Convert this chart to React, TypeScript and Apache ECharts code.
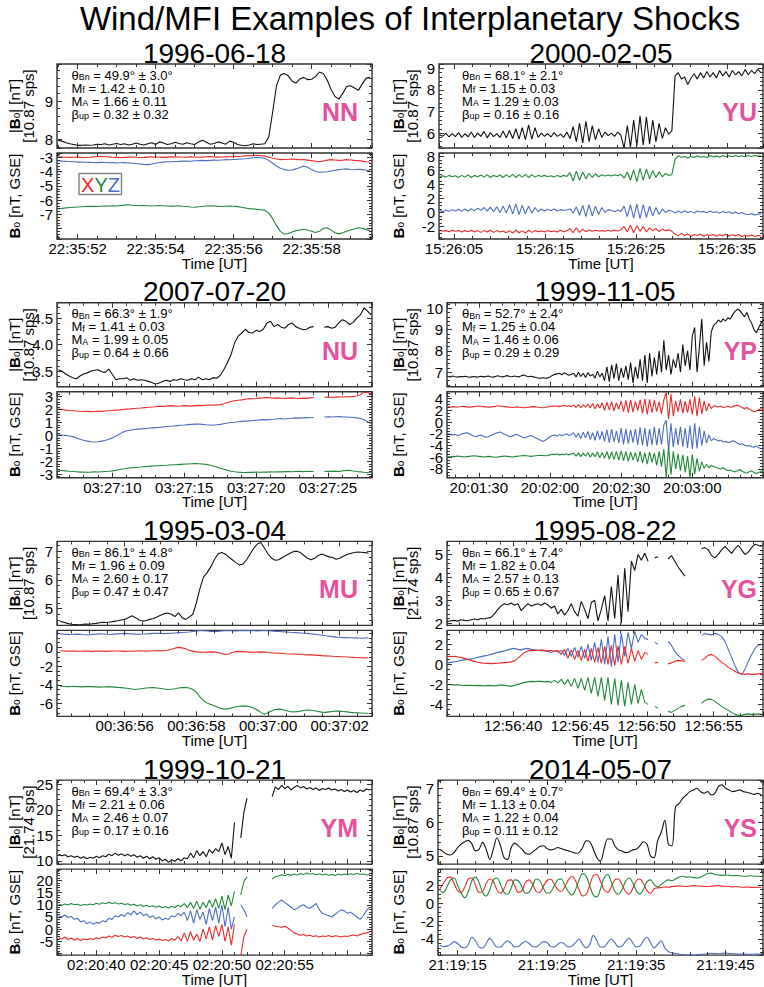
import React, { useEffect, useRef } from "react";
import * as echarts from "echarts";

/* ================= DATA ================= */
const mainTitle = "Wind/MFI Examples of Interplanetary Shocks";
const eventDates = ["1996-06-18", "2000-02-05", "2007-07-20", "1999-11-05", "1995-03-04", "1995-08-22", "1999-10-21", "2014-05-07"];
const shockCodes = ["NN", "YU", "NU", "YP", "MU", "YG", "YM", "YS"];
const sampleRates = ["10.87", "10.87", "10.87", "10.87", "10.87", "21.74", "21.74", "10.87"];
const thetaBn = [[49.9, 3.0], [68.1, 2.1], [66.3, 1.9], [52.7, 2.4], [86.1, 4.8], [66.1, 7.4], [69.4, 3.3], [69.4, 0.7]];
const machFast = [[1.42, 0.10], [1.15, 0.03], [1.41, 0.03], [1.25, 0.04], [1.96, 0.09], [1.82, 0.04], [2.21, 0.06], [1.13, 0.04]];
const machAlfven = [[1.66, 0.11], [1.29, 0.03], [1.99, 0.05], [1.46, 0.06], [2.60, 0.17], [2.57, 0.13], [2.46, 0.07], [1.22, 0.04]];
const betaUp = [[0.32, 0.32], [0.16, 0.16], [0.64, 0.66], [0.29, 0.29], [0.47, 0.47], [0.65, 0.67], [0.17, 0.16], [0.11, 0.12]];

// time axis: t = 0 is this UT time; values in seconds relative to it
const zeroTimes = ["22:35:52", "15:26:05", "03:27:10", "20:01:30", "00:36:56", "12:56:40", "02:20:40", "21:19:15"];
const sampleStart = [-0.5, -1.6, -3.75, -13, -1.8, -4.9, -3.0, -2.0];
const sampleStep = [0.1, 0.35, 0.25, 1.0, 0.1, 0.25, 0.25, 0.4];
const timeRanges = [[-0.53, 7.55], [-1.65, 33.97], [-3.85, 18.06], [-13.4, 119.8], [-1.89, 6.9], [-4.95, 18.7], [-3.13, 21.95], [-2.2, 34.2]];
const timeSteps = [2, 10, 5, 30, 2, 5, 5, 10];
const timeMinorSteps = [0.5, 2, 1, 5, 0.5, 1, 1, 2];
const hiddenTimeTicks = [[], [], [], [], [], [], [20], []];
const bRanges = [[7.77, 9.97], [5.31, 9.2], [3.21, 4.79], [6.32, 10.26], [4.41, 7.34], [1.9, 5.57], [9.35, 25.84], [4.76, 7.24]];
const bSteps = [1, 1, 0.5, 1, 1, 1, 5, 1];
const bMinorSteps = [0.2, 0.2, 0.1, 0.2, 0.2, 0.2, 1, 0.2];
const bDecimals = [0, 0, 1, 0, 0, 0, 0, 0];
const compRanges = [[-8.74, -2.68], [-3.8, 8.5], [-3.28, 3.38], [-9.5, 5.2], [-7.38, 1.82], [-5.2, 3.4], [-10.6, 24.6], [-5.8, 3.8]];
const compSteps = [1, 2, 1, 2, 2, 2, 5, 2];
const compMinorSteps = [0.2, 0.5, 0.2, 0.5, 0.5, 0.5, 1, 0.5];
const hiddenCompTicks = [[-8], [], [], [], [], [], [-10], []];

/* ---- 1996-06-18 (NN) ---- */
const nnB = [7.97,7.95,7.91,7.88,7.86,7.84,7.84,7.85,7.84,7.85,
 7.87,7.86,7.88,7.85,7.87,7.89,7.86,7.88,7.85,7.87,
 7.90,7.87,7.85,7.88,7.91,7.86,7.93,7.90,7.86,7.88,
 7.92,7.89,7.87,7.91,7.88,7.86,7.93,7.97,7.92,7.87,
 7.89,7.93,7.90,7.87,7.95,7.92,7.86,7.84,7.83,7.85,
 7.88,7.86,7.87,7.88,8.05,8.70,9.40,9.68,9.72,9.66,
 9.52,9.47,9.58,9.62,9.56,9.57,9.64,9.76,9.72,9.55,
 9.30,9.12,9.05,9.20,9.38,9.40,9.34,9.28,9.45,9.60,
 9.62];
const nnX = [-2.97,-2.96,-2.98,-2.99,-2.98,-2.97,-2.99,-3.00,-2.98,-2.95,
 -2.93,-2.92,-2.94,-2.96,-2.98,-2.99,-3.00,-2.99,-2.97,-2.96,
 -2.98,-3.00,-2.99,-2.97,-2.95,-2.96,-2.98,-2.99,-2.97,-2.95,
 -2.94,-2.96,-2.98,-2.97,-2.95,-2.96,-2.98,-2.97,-2.94,-2.93,
 -2.95,-2.97,-2.96,-2.95,-2.94,-2.92,-2.93,-2.91,-2.88,-2.86,
 -2.87,-2.84,-2.86,-2.90,-2.98,-3.05,-3.10,-3.15,-3.14,-3.12,
 -3.10,-3.13,-3.16,-3.14,-3.18,-3.22,-3.26,-3.30,-3.24,-3.18,
 -3.15,-3.17,-3.20,-3.18,-3.15,-3.17,-3.20,-3.22,-3.25,-3.30,
 -3.33];
const nnY = [-6.60,-6.58,-6.55,-6.52,-6.50,-6.48,-6.47,-6.45,-6.44,-6.43,
 -6.45,-6.43,-6.42,-6.41,-6.40,-6.42,-6.38,-6.35,-6.33,-6.36,
 -6.38,-6.40,-6.38,-6.40,-6.42,-6.40,-6.38,-6.40,-6.42,-6.44,
 -6.42,-6.40,-6.43,-6.45,-6.48,-6.50,-6.47,-6.45,-6.42,-6.40,
 -6.42,-6.44,-6.45,-6.43,-6.41,-6.43,-6.46,-6.50,-6.55,-6.60,
 -6.62,-6.65,-6.68,-6.72,-6.90,-7.30,-7.80,-8.20,-8.40,-8.35,
 -8.25,-8.15,-8.10,-8.05,-8.10,-8.20,-8.28,-8.20,-8.00,-7.95,
 -8.10,-8.30,-8.38,-8.30,-8.20,-8.10,-8.02,-7.95,-7.98,-8.08,
 -8.15];
const nnZ = [-3.22,-3.25,-3.27,-3.28,-3.30,-3.32,-3.31,-3.33,-3.34,-3.35,
 -3.36,-3.34,-3.35,-3.37,-3.36,-3.38,-3.37,-3.36,-3.38,-3.40,
 -3.42,-3.45,-3.48,-3.50,-3.46,-3.40,-3.35,-3.32,-3.30,-3.30,
 -3.28,-3.27,-3.25,-3.24,-3.26,-3.23,-3.22,-3.20,-3.22,-3.20,
 -3.18,-3.19,-3.17,-3.15,-3.16,-3.14,-3.12,-3.10,-3.08,-3.05,
 -3.02,-3.00,-3.02,-3.05,-3.20,-3.40,-3.60,-3.75,-3.85,-3.90,
 -3.88,-3.80,-3.70,-3.60,-3.68,-3.85,-3.98,-4.04,-4.02,-4.00,
 -3.95,-3.90,-3.85,-3.82,-3.80,-3.84,-3.86,-3.82,-3.85,-3.90,
 -3.95];

/* ---- 2000-02-05 (YU) ---- */
const yuB = [5.92,5.85,6.0,5.82,5.98,5.84,6.02,5.8,5.97,5.83,6.05,5.8,6.0,5.85,6.08,5.78,6.02,5.84,5.98,5.8,6.1,5.78,6.12,5.75,6.2,5.72,6.25,
 5.7,6.38,5.72,6.25,5.8,
 6.0,5.85,5.98,5.82,6.02,5.85,5.95,5.8,6.05,
 5.75,6.3,5.6,6.45,5.55,6.55,5.6,6.35,5.7,6.2,5.8,6.05,
 5.88,6.0,5.85,6.05,5.9,
 5.3,6.35,5.35,6.6,5.4,6.8,5.45,6.75,5.5,6.6,5.6,6.45,5.75,6.25,5.95,
 6.1,
 8.65,8.8,8.5,8.6,8.25,8.55,8.75,8.5,8.8,8.55,8.85,8.6,8.8,8.55,8.9,8.65,8.85,8.6,8.9,8.7,8.85,8.65,8.95,8.7,8.9,8.75,8.95,8.8];
const yuX = [-2.55,-2.7,-2.6,-2.75,-2.55,-2.7,-2.6,-2.8,-2.6,-2.75,-2.55,-2.8,-2.6,-2.85,-2.6,-2.8,-2.55,-2.85,-2.6,-2.8,-2.65,-2.9,-2.6,-2.95,-2.55,-2.9,-2.6,
 -2.95,-2.55,-2.85,-2.6,-2.75,
 -2.65,-2.8,-2.6,-2.75,-2.65,-2.8,-2.55,-2.75,-2.6,
 -2.3,-2.9,-2.2,-2.85,-2.4,-2.75,-2.5,-2.7,-2.55,-2.65,-2.6,-2.7,
 -2.55,-2.7,-2.5,-2.65,-2.5,
 -2.0,-2.8,-1.8,-2.9,-1.9,-2.7,-2.0,-2.8,-2.2,-2.6,-2.3,-2.75,-2.4,-2.6,-2.5,
 -2.7,
 -3.1,-3.35,-3.0,-3.3,-3.1,-3.4,-3.15,-3.3,-3.1,-3.45,-3.2,-3.3,-3.15,-3.4,-3.2,-3.35,-3.1,-3.4,-3.2,-3.35,-3.15,-3.45,-3.25,-3.4,-3.2,-3.45,-3.3,-3.35];
const yuY = [5.1,5.25,5.05,5.3,5.1,5.25,5.0,5.3,5.05,5.35,5.0,5.3,5.1,5.35,5.05,5.4,5.0,5.3,5.1,5.35,5.0,5.4,5.05,5.45,5.0,5.4,5.05,
 5.45,5.0,5.4,5.05,5.3,
 5.15,5.3,5.1,5.25,5.05,5.3,5.1,5.3,5.15,
 5.7,4.5,5.9,4.6,5.8,4.8,5.6,5.0,5.5,5.1,5.4,5.2,
 5.35,5.2,5.4,5.25,5.45,
 4.9,5.8,4.6,6.1,4.4,6.3,4.6,6.2,4.8,6.0,5.0,5.8,5.1,5.6,5.3,
 5.4,
 7.6,8.1,7.9,8.0,7.8,8.05,7.85,8.1,7.9,8.0,7.85,8.1,7.95,8.05,7.9,8.15,7.95,8.1,7.95,8.15,8.0,8.1,7.95,8.15,8.0,8.15,8.05,8.1];
const yuZ = [0.3,0.1,0.35,0.15,0.4,0.2,0.45,0.15,0.5,0.2,0.55,0.25,0.6,0.3,0.7,0.2,0.75,0.1,0.8,0.0,0.9,-0.1,
 1.1,-0.2,1.2,-0.3,1.0,-0.2,0.9,-0.1,0.7,0.1,
 0.5,0.2,0.45,0.25,0.5,0.2,0.4,0.3,0.35,0.5,-0.1,0.8,-0.4,
 1.0,-0.6,1.1,-0.5,0.9,-0.3,0.7,0.0,0.4,
 0.3,0.1,0.35,0.15,
 0.9,-0.6,1.1,-0.8,1.2,-0.9,1.1,-0.7,0.9,-0.5,0.7,-0.3,0.5,0.0,0.3,
 0.2,
 -0.1,0.2,-0.05,0.25,0.0,0.15,-0.1,0.2,0.05,0.15,-0.05,0.2,0.0,0.1,-0.1,0.15,-0.05,0.1,-0.15,0.05,-0.2,0.0,-0.25,-0.3,-0.2,-0.35,-0.25,-0.2];

/* ---- 2007-07-20 (NU) ---- */
const nuB = [3.53,3.50,3.45,3.41,3.38,3.36,3.41,3.45,3.47,3.50,
 3.52,3.53,3.49,3.48,3.54,3.44,3.34,3.36,3.36,3.38,
 3.33,3.36,3.33,3.34,3.33,3.31,3.29,3.26,3.28,3.31,
 3.33,3.31,3.34,3.33,3.36,3.34,3.33,3.36,3.34,3.39,
 3.34,3.36,3.34,3.38,3.37,3.42,3.53,3.66,3.81,4.03,
 4.16,4.22,4.29,4.23,4.22,4.27,4.25,4.29,4.41,4.44,
 4.34,4.38,4.33,4.31,4.38,4.41,4.34,4.31,4.28,4.29,
 4.33,4.34,null,null,4.33,4.34,4.31,4.33,4.41,4.47,
 4.44,4.38,4.42,4.50,4.56,4.69,4.63,4.56];
const nuX = [2.05,2.0,1.95,1.92,1.9,1.88,1.87,1.85,1.86,1.84,
 1.85,1.87,1.86,1.88,1.9,1.92,1.95,1.97,2.0,2.03,
 2.05,2.08,2.1,2.12,2.15,2.17,2.2,2.22,2.25,2.23,
 2.26,2.3,2.28,2.25,2.27,2.3,2.28,2.26,2.3,2.32,
 2.3,2.33,2.35,2.33,2.36,2.38,2.45,2.55,2.62,2.68,
 2.72,2.75,2.8,2.85,2.83,2.85,2.88,2.9,2.93,2.9,
 2.88,2.9,2.87,2.85,2.88,2.9,2.87,2.85,2.88,2.86,
 2.9,2.93,null,null,2.95,2.97,2.95,2.96,2.98,2.97,
 2.99,3.0,3.02,3.05,3.15,3.35,3.3,3.2];
const nuY = [-2.7,-2.72,-2.75,-2.78,-2.8,-2.82,-2.85,-2.84,-2.86,-2.85,
 -2.83,-2.84,-2.82,-2.8,-2.78,-2.75,-2.7,-2.65,-2.6,-2.55,
 -2.52,-2.5,-2.47,-2.45,-2.42,-2.4,-2.38,-2.36,-2.35,-2.33,
 -2.32,-2.3,-2.28,-2.27,-2.25,-2.23,-2.22,-2.2,-2.18,-2.2,
 -2.22,-2.25,-2.3,-2.38,-2.45,-2.55,-2.62,-2.7,-2.78,-2.82,
 -2.85,-2.87,-2.88,-2.86,-2.87,-2.85,-2.86,-2.84,-2.85,-2.83,
 -2.84,-2.82,-2.83,-2.81,-2.8,-2.82,-2.8,-2.79,-2.81,-2.8,
 -2.78,-2.8,null,null,-2.8,-2.78,-2.79,-2.77,-2.8,-2.75,
 -2.72,-2.7,-2.76,-2.8,-2.83,-2.86,-2.88,-2.85];
const nuZ = [0.05,0.03,0.0,-0.05,-0.1,-0.2,-0.3,-0.38,-0.45,-0.5,
 -0.52,-0.5,-0.45,-0.4,-0.3,-0.2,-0.05,0.1,0.25,0.35,
 0.4,0.45,0.48,0.5,0.52,0.55,0.58,0.6,0.62,0.65,
 0.68,0.7,0.72,0.75,0.78,0.8,0.83,0.85,0.87,0.88,
 0.85,0.82,0.8,0.78,0.82,0.85,0.9,0.95,1.0,1.02,
 1.05,1.08,1.1,1.12,1.15,1.17,1.2,1.22,1.2,1.23,
 1.25,1.28,1.3,1.27,1.3,1.32,1.35,1.33,1.35,1.37,
 1.36,1.38,null,null,1.42,1.43,1.42,1.44,1.45,1.43,
 1.42,1.4,1.38,1.35,1.3,1.2,1.05,0.92];

/* ---- 1999-11-05 (YP) ---- */
const ypB = [6.80,6.78,6.82,6.79,6.77,6.80,6.78,6.81,6.79,6.76,6.78,6.80,6.77,6.79,6.81,6.78,6.80,6.82,6.79,6.77,6.80,6.83,6.80,6.78,6.81,6.84,6.80,6.79,6.82,6.80,6.78,6.84,6.87,6.82,6.79,6.81,6.78,6.75,6.73,6.72,6.74,6.72,6.73,6.78,
 6.85,6.9,6.92,6.95,6.88,6.97,6.92,6.86,6.9,
 6.95,6.78,7.0,6.8,6.95,6.75,6.98,6.82,6.9,6.72,7.05,6.78,6.95,
 6.6,7.25,6.55,7.35,6.7,7.4,6.6,7.2,6.75,7.3,6.65,7.45,6.5,7.25,6.7,
 7.6,6.6,7.8,6.5,7.9,6.8,7.7,6.9,8.0,7.0,8.5,7.1,7.8,6.9,7.6,7.2,7.9,7.0,8.3,7.3,
 8.0,7.1,8.7,9.1,7.0,8.2,9.5,7.3,8.4,7.5,8.9,9.2,
 9.3,9.45,9.35,9.5,9.4,9.55,9.5,9.7,9.85,9.95,9.9,9.75,9.6,9.8,9.5,9.3,9.0,8.85,9.1,9.3,9.45,9.6];
const ypX = [2.6,2.55,2.65,2.6,2.58,2.62,2.7,2.65,2.6,2.55,2.6,2.65,2.7,2.75,2.7,2.65,2.6,2.55,2.6,2.65,2.7,2.8,2.75,2.7,2.65,2.6,2.55,2.5,2.55,2.6,2.55,2.5,2.45,2.5,2.55,2.6,2.65,2.6,2.55,2.5,2.45,2.5,2.6,2.7,
 2.75,2.7,2.8,2.65,2.75,2.85,2.7,2.8,2.65,
 2.9,2.5,3.0,2.45,2.95,2.55,3.1,2.4,3.2,2.3,3.1,2.4,3.3,
 2.0,3.4,2.1,3.5,1.9,3.3,2.2,3.6,1.8,3.7,1.6,3.8,1.7,3.5,2.0,
 3.8,1.5,4.0,1.3,3.9,1.6,3.7,1.8,3.5,1.4,3.8,5.1,0.5,4.8,1.0,3.6,1.8,3.9,1.5,3.6,
 1.6,3.9,1.3,4.4,1.0,4.2,1.4,3.6,1.9,3.2,2.3,2.8,
 2.7,2.6,2.75,2.5,2.6,2.7,2.55,2.65,2.8,2.9,2.7,2.5,2.3,2.5,2.2,2.0,1.8,1.9,2.1,2.3,2.0,1.7];
const ypY = [-5.9,-5.95,-5.85,-5.9,-5.8,-5.85,-5.9,-5.95,-5.9,-5.85,-5.8,-5.75,-5.8,-5.85,-5.9,-5.95,-5.9,-5.85,-5.9,-5.95,-6.0,-5.95,-5.9,-5.85,-5.8,-5.85,-5.9,-5.95,-5.9,-5.85,-5.8,-5.75,-5.7,-5.75,-5.8,-5.85,-5.8,-5.75,-5.7,-5.65,-5.7,-5.75,-5.7,-5.6,
 -5.5,-5.55,-5.45,-5.6,-5.5,-5.55,-5.4,-5.6,-5.45,
 -5.3,-5.8,-5.25,-5.9,-5.3,-5.8,-5.2,-6.0,-5.3,-5.9,-5.1,-6.1,-5.2,
 -6.2,-5.0,-6.3,-5.1,-6.4,-5.0,-6.5,-4.9,-6.6,-5.0,-6.7,-5.1,-6.5,-5.2,-6.8,
 -5.0,-7.0,-5.2,-7.2,-5.1,-6.9,-5.3,-7.4,-5.0,-7.6,-4.6,-9.4,-4.2,-9.0,-5.0,-8.0,-5.4,-8.3,-5.6,-8.6,
 -5.8,-9.4,-5.5,-8.9,-6.2,-8.4,-6.8,-7.9,-7.2,-7.8,-7.4,-7.6,
 -7.7,-7.9,-8.0,-7.8,-8.1,-8.3,-8.2,-8.4,-8.5,-8.3,-8.1,-8.4,-8.6,-8.7,-8.5,-8.3,-8.6,-8.8,-8.6,-8.4,-8.2,-8.1];
const ypZ = [-2.0,-2.1,-2.2,-2.1,-2.3,-2.2,-2.0,-1.9,-1.8,-2.0,-2.2,-2.4,-2.5,-2.3,-2.2,-2.4,-2.6,-2.5,-2.3,-2.1,-1.9,-1.8,-1.7,-1.9,-2.1,-2.3,-2.5,-2.4,-2.2,-2.1,-2.3,-2.5,-2.7,-2.6,-2.4,-2.3,-2.5,-2.7,-2.9,-3.1,-3.3,-3.1,-2.8,-2.5,
 -2.3,-2.2,-2.4,-2.1,-2.3,-2.2,-2.0,-2.3,-2.1,
 -1.8,-2.6,-1.9,-2.8,-1.7,-2.7,-1.6,-3.0,-1.8,-3.1,-1.5,-3.0,-1.6,
 -3.3,-1.3,-3.5,-1.2,-3.4,-1.5,-3.6,-1.0,-3.8,-1.1,-3.7,-1.3,-3.5,-1.2,-3.9,
 -0.9,-4.0,-1.0,-4.2,-1.2,-3.9,-0.8,-4.0,-1.0,-3.8,-0.5,0.3,-4.8,-0.2,-4.3,-1.0,-3.9,-0.8,-4.2,-1.0,
 -4.4,-0.6,-4.6,-0.2,-4.5,-0.8,-4.0,-1.5,-3.6,-2.2,-3.2,-2.8,
 -3.0,-3.2,-3.1,-3.4,-3.3,-3.5,-3.4,-3.2,-3.3,-3.6,-3.8,-3.7,-3.9,-4.1,-4.0,-4.2,-4.3,-4.1,-4.4,-4.5,-4.6,-4.4];

/* ---- 1995-03-04 (MU) ---- */
const muB = [4.55,4.52,4.48,4.45,4.44,4.43,4.44,4.46,4.45,4.47,
 4.48,4.50,4.52,4.51,4.53,4.55,4.57,4.60,4.62,4.68,
 4.75,4.68,4.60,4.56,4.58,4.62,4.65,4.70,4.76,4.82,
 4.84,4.80,4.72,4.85,4.68,4.62,4.70,4.80,5.20,5.70,
 6.10,6.25,6.45,6.70,6.90,6.95,6.90,6.80,6.70,6.60,
 6.52,6.55,6.70,6.90,7.10,7.25,7.30,7.10,6.90,6.75,
 6.68,6.70,6.78,6.85,6.92,6.98,7.00,6.95,6.85,6.75,
 6.70,6.75,6.85,6.90,6.85,6.80,6.78,6.72,6.75,6.82,
 6.88,6.92,6.95,6.97,6.96,6.95,6.93];
const muX = [-0.36,-0.38,-0.4,-0.4,-0.39,-0.41,-0.4,-0.38,-0.4,-0.42,
 -0.4,-0.38,-0.4,-0.42,-0.4,-0.39,-0.38,-0.4,-0.42,-0.41,
 -0.4,-0.38,-0.37,-0.39,-0.4,-0.38,-0.36,-0.35,-0.34,-0.36,
 -0.3,-0.2,-0.08,0.0,-0.05,-0.15,-0.3,-0.4,-0.48,-0.5,
 -0.52,-0.5,-0.48,-0.5,-0.55,-0.65,-0.75,-0.7,-0.55,-0.45,
 -0.42,-0.45,-0.48,-0.5,-0.52,-0.5,-0.48,-0.5,-0.55,-0.58,
 -0.6,-0.62,-0.65,-0.68,-0.7,-0.7,-0.72,-0.75,-0.78,-0.8,
 -0.8,-0.82,-0.85,-0.88,-0.9,-0.92,-0.95,-0.97,-1.0,-1.0,
 -1.02,-1.05,-1.07,-1.08,-1.1,-1.12,-1.1];
const muY = [-4.15,-4.18,-4.2,-4.18,-4.17,-4.2,-4.22,-4.2,-4.18,-4.2,
 -4.22,-4.25,-4.23,-4.2,-4.22,-4.25,-4.28,-4.3,-4.35,-4.4,
 -4.45,-4.5,-4.45,-4.4,-4.35,-4.32,-4.3,-4.35,-4.4,-4.45,
 -4.5,-4.48,-4.42,-4.35,-4.3,-4.28,-4.35,-4.5,-4.8,-5.3,
 -5.7,-5.95,-6.1,-6.25,-6.4,-6.55,-6.6,-6.55,-6.45,-6.35,
 -6.3,-6.25,-6.28,-6.35,-6.5,-6.7,-6.95,-7.15,-7.0,-6.8,
 -6.65,-6.6,-6.65,-6.75,-6.85,-6.9,-6.88,-6.82,-6.75,-6.7,
 -6.72,-6.78,-6.85,-6.92,-6.95,-6.9,-6.85,-6.8,-6.82,-6.85,
 -6.9,-6.95,-6.98,-7.0,-7.02,-7.05,-7.05];
const muZ = [1.45,1.42,1.4,1.38,1.4,1.42,1.38,1.35,1.37,1.4,
 1.42,1.45,1.43,1.4,1.38,1.42,1.45,1.48,1.5,1.47,
 1.45,1.42,1.4,1.43,1.45,1.48,1.5,1.52,1.5,1.48,
 1.5,1.52,1.55,1.58,1.6,1.62,1.65,1.7,1.75,1.8,
 1.78,1.75,1.72,1.7,1.72,1.75,1.78,1.8,1.78,1.75,
 1.78,1.8,1.82,1.8,1.78,1.75,1.78,1.8,1.78,1.75,
 1.72,1.7,1.68,1.65,1.62,1.6,1.58,1.55,1.52,1.5,
 1.45,1.4,1.35,1.3,1.25,1.2,1.15,1.1,1.08,1.05,
 1.05,1.03,1.02,1.0,0.98,1.0,1.02];

/* ---- 1995-08-22 (YG) ---- */
const ygB = [2.07,2.1,2.12,2.08,2.15,2.12,2.1,2.15,2.18,2.15,
 2.2,2.18,2.22,2.25,2.4,2.6,2.75,2.85,2.8,2.88,
 2.78,2.85,2.55,2.7,2.85,2.75,2.8,2.85,2.78,2.88,
 2.8,2.65,2.75,2.4,2.6,2.35,2.55,2.85,2.5,2.3,
 2.95,2.6,2.2,2.9,3.0,2.1,2.6,3.2,2.1,3.6,
 2.2,4.1,2.0,4.4,2.5,4.7,4.3,5.0,4.75,5.05,
 4.7,null,4.85,4.9,null,null,4.8,4.95,4.7,4.45,
 4.25,4.05,null,null,null,null,5.25,5.3,5.2,4.95,
 4.85,5.0,5.2,5.35,5.2,5.05,5.25,5.4,5.2,5.0,
 5.1,5.3,5.45,5.4,5.35];
const ygX = [0.8,0.78,0.82,0.75,0.7,0.6,0.5,0.4,0.3,0.22,
 0.15,0.12,0.1,0.08,0.1,0.12,0.15,0.18,0.2,0.25,
 0.35,0.6,0.9,1.2,1.35,1.4,1.38,1.42,1.45,1.4,
 1.35,1.42,1.3,1.38,1.0,1.5,0.6,1.45,0.5,1.4,
 0.4,1.5,0.3,1.6,0.2,1.7,0.1,1.8,0.0,1.9,
 -0.1,1.85,0.0,1.8,0.1,1.6,0.3,1.4,0.5,1.2,
 1.0,null,0.15,0.2,null,null,0.05,0.15,0.3,0.4,
 0.35,0.3,null,null,null,null,0.4,0.6,0.9,1.0,
 0.8,0.5,0.2,0.0,-0.3,-0.5,-0.7,-0.85,-0.95,-1.0,
 -0.95,-1.0,-1.0,-0.95,-0.9];
const ygY = [-2.0,-2.02,-2.05,-2.05,-2.08,-2.1,-2.08,-2.1,-2.12,-2.1,
 -2.12,-2.15,-2.1,-2.12,-2.15,-2.1,-2.05,-2.1,-2.15,-2.2,
 -2.1,-2.0,-1.9,-1.8,-1.75,-1.7,-1.72,-1.68,-1.7,-1.75,
 -1.7,-1.8,-1.6,-1.85,-1.5,-2.0,-1.5,-2.2,-1.4,-2.4,
 -1.4,-2.6,-1.3,-2.9,-1.3,-3.2,-1.3,-3.6,-1.3,-4.0,
 -1.4,-4.1,-1.6,-4.2,-1.8,-4.0,-2.0,-3.9,-2.5,-3.8,
 -4.0,null,-4.2,-4.4,null,null,-4.7,-4.8,-4.6,-4.4,
 -4.2,-4.1,null,null,null,null,-3.9,-3.6,-3.45,-3.5,
 -3.7,-3.95,-4.2,-4.4,-4.6,-4.8,-5.0,-5.1,-5.1,-5.0,
 -4.95,-5.0,-5.0,-4.95,-4.98];
const ygZ = [0.15,0.2,0.25,0.32,0.4,0.45,0.5,0.55,0.62,0.7,
 0.78,0.85,0.92,1.0,1.1,1.2,1.28,1.35,1.45,1.55,
 1.6,1.5,1.45,1.55,1.6,1.5,1.45,1.4,1.38,1.35,
 1.3,1.2,1.35,1.25,1.4,0.9,1.6,0.8,1.7,0.7,
 1.8,0.6,2.0,0.4,2.2,0.2,2.5,0.0,2.8,-0.2,
 3.0,0.2,3.1,0.8,3.2,1.6,3.3,2.2,3.0,2.6,
 2.5,null,2.2,2.0,null,null,2.3,1.9,1.3,0.9,
 0.6,0.4,null,null,null,null,2.9,3.1,3.0,2.95,
 3.1,3.0,2.8,2.3,1.5,0.7,-0.1,-0.8,-1.0,-0.5,
 0.3,1.0,1.6,1.95,2.0];

/* ---- 1999-10-21 (YM) ---- */
const ymB = [11.3,11.0,11.2,10.8,11.0,10.7,10.9,10.5,10.8,10.4,
 10.7,10.5,10.9,10.6,11.0,10.8,11.3,11.0,11.5,11.1,
 11.4,11.0,11.3,10.9,11.2,10.7,11.0,10.5,10.9,10.4,
 10.8,10.3,10.6,10.0,10.3,9.7,10.2,9.9,10.4,10.0,
 10.6,10.4,11.5,10.6,12.0,11.0,11.8,10.8,12.2,11.5,
 12.4,11.8,13.5,11.2,12.8,10.5,17.5,
 null,14.5,19.5,22.3,null,null,null,null,null,null,null,
 22.6,24.5,24.0,24.8,24.2,24.6,23.9,24.4,24.8,24.3,
 24.6,24.1,24.4,24.0,24.3,23.8,24.2,24.0,24.3,23.9,
 24.1,23.7,24.0,23.6,23.9,23.5,23.8,23.4,23.9,23.6,
 24.1,23.9];
const ymX = [-3.5,-4.0,-3.2,-4.2,-3.6,-4.5,-3.8,-4.6,-4.0,-4.4,
 -3.8,-4.2,-3.5,-3.9,-3.2,-3.6,-2.8,-3.3,-2.5,-3.0,
 -2.6,-3.2,-2.8,-3.5,-3.0,-3.8,-3.2,-4.0,-3.5,-4.2,
 -3.8,-4.5,-4.0,-4.6,-4.2,-4.8,-3.8,-4.5,-3.0,-4.8,
 -1.5,-5.0,-1.0,-4.5,-2.0,-5.0,0.0,-4.0,1.0,-4.5,
 1.5,-3.0,2.0,-5.0,1.0,-6.5,2.0,
 null,-11.0,-3.0,0.0,null,null,null,null,null,null,null,
 1.5,1.2,1.0,0.8,1.2,0.5,-0.5,-1.5,-2.0,-2.5,
 -2.2,-2.8,-2.5,-3.0,-2.7,-3.2,-2.8,-3.0,-2.6,-3.1,
 -2.7,-2.9,-3.2,-2.8,-3.0,-2.6,-2.4,-2.8,-2.2,-1.8,
 -1.5,-1.2];
const ymY = [10.2,9.8,10.3,9.9,10.5,10.0,10.2,9.7,10.1,9.9,
 10.3,10.0,10.6,10.2,10.8,10.4,11.0,10.5,10.8,10.3,
 10.6,10.1,10.4,9.8,10.2,9.5,10.0,9.3,9.8,9.2,
 9.6,9.0,9.5,8.8,9.3,8.7,9.4,8.9,9.8,9.2,
 10.5,8.8,11.0,8.5,11.5,8.2,11.0,8.8,12.0,9.0,
 12.5,8.5,13.5,8.0,14.0,9.5,15.5,
 null,14.0,19.5,21.5,null,null,null,null,null,null,null,
 20.5,21.5,21.8,22.3,21.9,22.5,22.0,22.6,22.2,22.8,
 22.4,23.0,22.5,22.8,22.3,22.7,22.2,22.6,22.1,22.4,
 22.0,22.5,22.2,22.6,22.3,22.7,22.4,22.8,22.5,22.6,
 22.2,22.4];
const ymZ = [5.5,5.0,5.8,4.8,5.2,4.0,4.5,3.0,3.5,2.2,
 3.0,2.0,2.8,2.5,3.5,3.0,4.5,4.0,5.5,5.0,
 6.0,5.2,6.8,5.8,7.5,6.0,7.0,5.5,6.2,4.8,
 5.5,4.2,5.0,3.8,4.5,4.0,5.5,5.0,6.5,5.5,
 7.0,3.5,7.5,2.5,8.0,4.0,7.0,2.0,8.5,3.5,
 9.0,2.5,10.0,1.0,9.0,0.0,5.0,
 null,10.0,8.0,5.0,null,null,null,null,null,null,null,
 8.5,10.0,11.0,12.0,11.0,10.0,9.0,8.0,8.5,9.5,
 10.0,9.0,8.5,9.5,10.5,8.0,6.5,6.0,5.5,5.0,
 6.0,7.0,8.0,7.5,6.5,7.0,6.0,5.0,4.0,5.5,
 7.5,9.0];

/* ---- 2014-05-07 (YS) ---- */
const ysB = [5.2,5.12,5.05,5.03,5.1,5.25,5.35,5.42,5.46,5.35,
 5.15,5.2,5.4,5.2,4.9,5.2,5.54,5.3,4.95,4.9,
 5.25,5.38,5.3,5.2,5.08,5.05,5.12,5.2,5.28,5.3,
 5.22,5.18,5.2,5.25,5.22,5.18,5.15,5.12,5.08,5.1,
 5.25,5.45,5.42,5.2,4.95,4.85,5.2,5.5,5.5,5.3,
 5.18,5.15,5.1,5.12,5.18,5.2,5.3,5.42,5.35,5.0,
 4.95,5.45,5.7,6.05,5.35,5.3,6.45,6.55,6.7,6.8,
 6.9,6.95,7.0,6.9,6.85,6.9,6.8,6.85,7.05,7.1,
 7.0,6.95,6.9,6.92,6.95,6.9,6.88,6.85,6.82,6.85,
 6.8];
const ysX = [1.6,2.2,2.8,2.9,2.2,1.4,1.2,1.8,2.7,2.8,
 2.0,1.2,1.3,2.2,2.7,2.4,1.5,1.1,1.6,2.5,
 2.6,1.9,1.2,1.4,2.3,2.6,2.1,1.3,1.2,1.9,
 2.5,2.7,2.2,1.5,1.3,1.8,2.6,3.0,2.5,1.5,
 0.8,1.0,2.0,3.1,3.2,2.4,1.5,1.2,1.8,2.6,
 2.7,2.1,1.3,1.0,1.6,2.5,2.7,2.2,1.4,1.1,
 1.6,1.7,1.75,1.8,1.78,1.85,1.9,1.92,1.88,1.85,
 1.9,1.95,1.92,1.9,1.88,1.85,1.9,1.93,1.95,1.9,
 1.88,1.85,1.82,1.85,1.8,1.78,1.8,1.77,1.75,1.78,
 1.75];
const ysY = [1.4,1.2,1.8,2.6,2.8,2.0,1.1,0.6,1.3,2.5,
 2.9,2.3,1.2,0.8,1.5,2.6,2.8,2.1,1.2,1.0,
 1.7,2.6,2.5,1.8,1.1,1.2,2.0,2.7,2.5,1.7,
 1.1,1.2,1.9,2.6,2.7,2.0,1.3,0.9,1.5,2.6,
 3.3,3.0,1.9,0.9,0.7,1.6,2.8,3.2,2.4,1.3,
 1.0,1.5,2.4,2.8,2.3,1.4,1.0,1.5,2.4,2.6,
 2.1,1.8,2.1,2.4,2.6,2.5,2.7,2.9,3.0,2.9,
 2.95,2.85,2.8,2.9,3.1,3.3,3.35,3.2,3.15,3.1,
 3.15,3.1,3.05,3.1,3.05,3.0,3.0,3.05,3.0,3.0,
 2.98];
const ysZ = [-4.7,-4.85,-4.8,-4.6,-4.3,-4.5,-4.9,-5.0,-4.6,-3.8,
 -4.2,-4.9,-5.0,-4.5,-3.9,-4.4,-4.9,-4.9,-4.5,-4.2,
 -4.5,-4.9,-4.85,-4.5,-4.25,-4.5,-4.85,-4.9,-4.6,-4.3,
 -4.4,-4.8,-4.9,-4.6,-4.4,-4.6,-4.9,-4.8,-4.4,-4.0,
 -4.6,-5.0,-4.6,-3.6,-4.2,-4.9,-4.9,-4.4,-4.0,-4.4,
 -4.9,-4.8,-4.3,-3.9,-4.4,-4.9,-4.8,-4.2,-3.8,-4.4,
 -5.0,-4.6,-4.2,-5.0,-5.4,-5.55,-5.6,-5.7,-5.75,-5.8,
 -5.78,-5.8,-5.75,-5.7,-5.72,-5.65,-5.6,-5.62,-5.65,-5.6,
 -5.58,-5.62,-5.65,-5.68,-5.7,-5.68,-5.7,-5.72,-5.7,-5.68,
 -5.7];

const bSeries = [nnB, yuB, nuB, ypB, muB, ygB, ymB, ysB];
const xSeries = [nnX, yuX, nuX, ypX, muX, ygX, ymX, ysX];
const ySeries = [nnY, yuY, nuY, ypY, muY, ygY, ymY, ysY];
const zSeries = [nnZ, yuZ, nuZ, ypZ, muZ, ygZ, ymZ, ysZ];

/* ================= LAYOUT & STYLE ================= */
const FONT = "'Liberation Sans', Arial, Helvetica, sans-serif";
const TICK_FONT = 15;
const PINK = "#E6519D";
const RED = "#EE2A2A";
const GREEN = "#23893A";
const BLUE = "#4C6DC2";
const BLACK = "#111111";
const FRAME = "#333333";
const ROW_TOP = [64, 302.7, 541.4, 780.1];
const TOP_H = 84;
const GAP = 5;
const BOT_H = 86;
const panelBoxes = [
  { col: 0, row: 0, left: 57, right: 372 },
  { col: 1, row: 0, left: 439, right: 763 },
  { col: 0, row: 1, left: 57, right: 372 },
  { col: 1, row: 1, left: 447, right: 763 },
  { col: 0, row: 2, left: 57, right: 372 },
  { col: 1, row: 2, left: 447, right: 763 },
  { col: 0, row: 3, left: 57, right: 372 },
  { col: 1, row: 3, left: 438, right: 763 },
];
const smoothing = [0, 0, 0, 0, 0, 0, 0, 0.35];

function pad2(n: number) { return (n < 10 ? "0" : "") + n; }
function toSec(hms: string) { const p = hms.split(":").map(Number); return p[0] * 3600 + p[1] * 60 + p[2]; }
function fmtHMS(total: number) {
  let s = Math.round(total);
  s = ((s % 86400) + 86400) % 86400;
  return pad2(Math.floor(s / 3600)) + ":" + pad2(Math.floor((s % 3600) / 60)) + ":" + pad2(s % 60);
}
function isMultiple(v: number, step: number) { const r = v / step; return Math.abs(r - Math.round(r)) < 1e-6; }
function isHidden(v: number, list: number[]) { return list.some((h) => Math.abs(h - v) < 1e-6); }

function axis(gridIndex: number, position: string, min: number, max: number, step: number, tickLen: number, label: any) {
  return {
    type: "value",
    gridIndex,
    position,
    min,
    max,
    minInterval: step,
    maxInterval: step,
    splitNumber: Math.max(1, Math.round((max - min) / step)),
    axisLine: { show: false, onZero: false },
    axisTick: { show: true, inside: true, length: tickLen, lineStyle: { color: FRAME, width: 1 } },
    minorTick: { show: false },
    splitLine: { show: false },
    minorSplitLine: { show: false },
    axisLabel: label || { show: false },
    axisPointer: { show: false },
    silent: true,
    z: 5,
  };
}

function text(x: number, y: number, str: string, size: number, opt: any = {}) {
  const align = opt.align || "center";
  return {
    type: "text",
    x,
    y,
    rotation: opt.rotation || 0,
    silent: true,
    z: 100,
    style: {
      text: str,
      fontSize: size,
      fontFamily: FONT,
      fontWeight: opt.weight || "normal",
      fill: opt.color || "#000",
      align,
      textAlign: align,
      verticalAlign: "middle",
      textVerticalAlign: "middle",
      rich: opt.rich,
    },
  };
}

function buildOption() {
  const grid: any[] = [];
  const xAxis: any[] = [];
  const yAxis: any[] = [];
  const series: any[] = [];
  const graphic: any[] = [];

  graphic.push(text(410, 18, mainTitle, 33));

  const subRich = {
    b: { fontWeight: "bold", fontSize: 15, fontFamily: FONT, fill: "#000" },
    s: { fontSize: 10, fontFamily: FONT, fill: "#000", verticalAlign: "bottom" },
  };
  const annRich = {
    s: { fontSize: 9, fontFamily: FONT, fill: "#000", verticalAlign: "bottom" },
  };

  panelBoxes.forEach((box, k) => {
    const top0 = ROW_TOP[box.row];
    const width = box.right - box.left;
    const lowTop = top0 + TOP_H + GAP;
    const gTop = grid.length;
    const gBot = gTop + 1;
    const gridStyle = { show: true, borderColor: FRAME, borderWidth: 1.4, backgroundColor: "transparent", containLabel: false, outerBoundsMode: "none" };
    grid.push({ ...gridStyle, left: box.left, top: top0, width, height: TOP_H });
    grid.push({ ...gridStyle, left: box.left, top: lowTop, width, height: BOT_H });

    const base = toSec(zeroTimes[k]);
    const [t0, t1] = timeRanges[k];
    const tStep = timeSteps[k];
    const tMinor = timeMinorSteps[k];
    const hideT = hiddenTimeTicks[k];

    const timeLabel = {
      show: true,
      fontSize: TICK_FONT,
      fontFamily: FONT,
      color: "#000",
      margin: 2,
      textStyle: { fontSize: TICK_FONT, fontFamily: FONT, color: "#000" },
      formatter: (v: number) => (isMultiple(v, tStep) && !isHidden(v, hideT) ? fmtHMS(base + v) : ""),
    };
    const numLabel = (step: number, dec: number, hidden: number[]) => ({
      show: true,
      fontSize: TICK_FONT,
      fontFamily: FONT,
      color: "#000",
      margin: 4,
      textStyle: { fontSize: TICK_FONT, fontFamily: FONT, color: "#000" },
      formatter: (v: number) => {
        if (!isMultiple(v, step) || isHidden(v, hidden)) return "";
        const r = Math.abs(v) < 1e-9 ? 0 : v;
        return r.toFixed(dec);
      },
    });

    [gTop, gBot].forEach((g) => {
      const isBot = g === gBot;
      // x axes: bottom major, bottom minor, top major, top minor
      xAxis.push(axis(g, "bottom", t0, t1, tStep, 5, isBot ? timeLabel : null));
      xAxis.push(axis(g, "bottom", t0, t1, tMinor, 3, null));
      xAxis.push(axis(g, "top", t0, t1, tStep, 5, null));
      xAxis.push(axis(g, "top", t0, t1, tMinor, 3, null));
      const yr = isBot ? compRanges[k] : bRanges[k];
      const ys = isBot ? compSteps[k] : bSteps[k];
      const ym = isBot ? compMinorSteps[k] : bMinorSteps[k];
      const lab = isBot ? numLabel(ys, 0, hiddenCompTicks[k]) : numLabel(ys, bDecimals[k], []);
      yAxis.push(axis(g, "left", yr[0], yr[1], ys, 5, lab));
      yAxis.push(axis(g, "left", yr[0], yr[1], ym, 3, null));
      yAxis.push(axis(g, "right", yr[0], yr[1], ys, 5, null));
      yAxis.push(axis(g, "right", yr[0], yr[1], ym, 3, null));
    });

    const toData = (vals: (number | null)[]) =>
      vals.map((v, i) => [Number((sampleStart[k] + i * sampleStep[k]).toFixed(4)), v]);
    const line = (g: number, vals: (number | null)[], color: string) => ({
      type: "line",
      xAxisIndex: g * 4,
      yAxisIndex: g * 4,
      data: toData(vals),
      showSymbol: false,
      symbol: "none",
      smooth: smoothing[k] || false,
      connectNulls: false,
      clip: true,
      silent: true,
      animation: false,
      lineStyle: { color, width: 1.1 },
      itemStyle: { color },
      z: 3,
    });
    series.push(line(gTop, bSeries[k], BLACK));
    series.push(line(gBot, zSeries[k], BLUE));
    series.push(line(gBot, xSeries[k], RED));
    series.push(line(gBot, ySeries[k], GREEN));

    // titles & labels
    const cx = (box.left + box.right) / 2;
    graphic.push(text(cx, top0 - 11, eventDates[k], 28));
    const ax = 71.5 + box.col * 390.5;
    const th = thetaBn[k], mf = machFast[k], ma = machAlfven[k], bu = betaUp[k];
    const lines = [
      `θ{s|Bn} = ${th[0].toFixed(1)}° ± ${th[1].toFixed(1)}°`,
      `M{s|f} = ${mf[0].toFixed(2)} ± ${mf[1].toFixed(2)}`,
      `M{s|A} = ${ma[0].toFixed(2)} ± ${ma[1].toFixed(2)}`,
      `β{s|up} = ${bu[0].toFixed(2)} ± ${bu[1].toFixed(2)}`,
    ];
    lines.forEach((ln, j) => {
      graphic.push(text(ax, top0 + 11 + 13 * j, ln, 13, { align: "left", rich: annRich }));
    });
    graphic.push(text(box.col ? 757 : 358, top0 + 48, shockCodes[k], 25, { align: "right", weight: "bold", color: PINK }));

    const lx = 14 + box.col * 384;
    graphic.push(text(lx, top0 + TOP_H / 2, "|{b|B}{s|o}| [nT]", 15, { rotation: Math.PI / 2, rich: subRich }));
    graphic.push(text(lx + 14, top0 + TOP_H / 2, `[${sampleRates[k]} sps]`, 15, { rotation: Math.PI / 2 }));
    graphic.push(text(lx, lowTop + BOT_H / 2, "{b|B}{s|o} [nT, GSE]", 15, { rotation: Math.PI / 2, rich: subRich }));
    graphic.push(text(cx, lowTop + BOT_H + 24, "Time [UT]", 15));

    if (k === 0) {
      graphic.push({
        type: "rect",
        silent: true,
        z: 99,
        shape: { x: 79, y: 173.5, width: 42.5, height: 21 },
        style: { fill: "#fff", stroke: "#888", lineWidth: 1.5 },
      });
      graphic.push(
        text(100.5, 184.5, "{x|X}{y|Y}{z|Z}", 20, {
          rich: {
            x: { fill: RED, fontSize: 20, fontFamily: FONT },
            y: { fill: GREEN, fontSize: 20, fontFamily: FONT },
            z: { fill: BLUE, fontSize: 20, fontFamily: FONT },
          },
        })
      );
    }
  });

  return {
    animation: false,
    backgroundColor: "#ffffff",
    textStyle: { fontFamily: FONT },
    grid,
    xAxis,
    yAxis,
    series,
    graphic: { elements: graphic },
  };
}

export default function App() {
  const ref = useRef<HTMLDivElement>(null);
  useEffect(() => {
    if (!ref.current) return;
    const chart = echarts.init(ref.current, null, { renderer: "svg", width: 764, height: 987 });
    chart.setOption(buildOption() as any);
    return () => chart.dispose();
  }, []);
  return (
    <div
      ref={ref}
      style={{ position: "fixed", left: 0, top: 0, width: 764, height: 987, background: "#fff" }}
    />
  );
}
